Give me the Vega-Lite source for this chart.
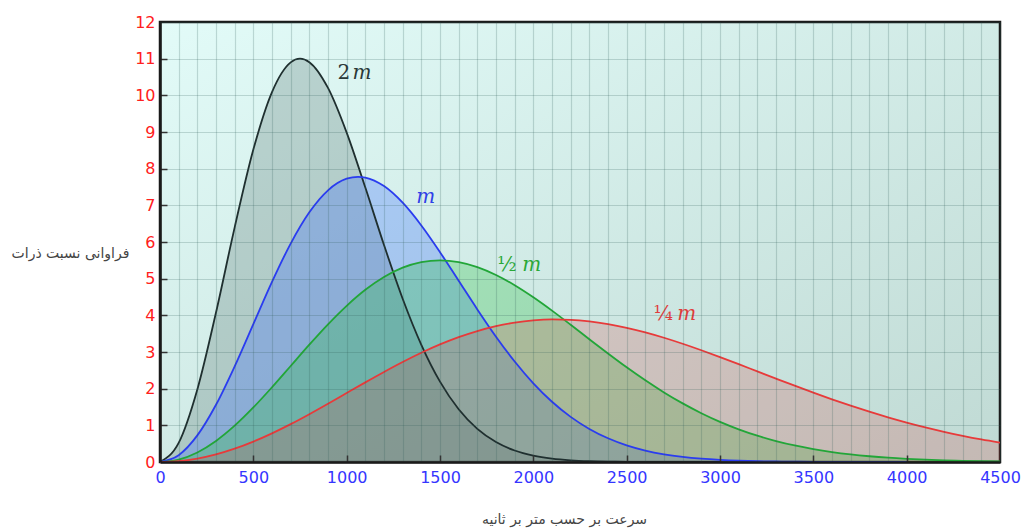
{
  "$schema": "https://vega.github.io/schema/vega-lite/v6.json",
  "width": 840,
  "height": 440,
  "autosize": {"type": "none"},
  "padding": {"left": 160, "top": 22, "right": 22, "bottom": 69},
  "background": "white",
  "config": {"view": {"stroke": null}},
  "datasets": {
    "bg": [{"v": 0, "v2": 4500, "f": 0, "f2": 12}],
    "curves": [
      {"s":"2m","v":0,"f":0},{"s":"2m","v":100,"f":0.522},{"s":"2m","v":200,"f":1.98},{"s":"2m","v":300,"f":4.077},{"s":"2m","v":400,"f":6.4},{"s":"2m","v":500,"f":8.521},{"s":"2m","v":600,"f":10.09},{"s":"2m","v":700,"f":10.9},{"s":"2m","v":750,"f":11.0},{"s":"2m","v":800,"f":10.905},{"s":"2m","v":900,"f":10.202},{"s":"2m","v":1000,"f":8.984},{"s":"2m","v":1100,"f":7.484},{"s":"2m","v":1200,"f":5.918},{"s":"2m","v":1300,"f":4.453},{"s":"2m","v":1400,"f":3.196},{"s":"2m","v":1500,"f":2.191},{"s":"2m","v":1600,"f":1.437},{"s":"2m","v":1700,"f":0.902},{"s":"2m","v":1800,"f":0.543},{"s":"2m","v":1900,"f":0.313},{"s":"2m","v":2000,"f":0.173},{"s":"2m","v":2100,"f":0.092},{"s":"2m","v":2200,"f":0.047},{"s":"2m","v":2300,"f":0.023},{"s":"2m","v":2400,"f":0.011},{"s":"2m","v":2500,"f":0.005},{"s":"2m","v":2600,"f":0.002},{"s":"2m","v":2700,"f":0.001},{"s":"2m","v":2800,"f":0},{"s":"2m","v":3000,"f":0},
      {"s":"m","v":0,"f":0},{"s":"m","v":100,"f":0.186},{"s":"m","v":200,"f":0.726},{"s":"m","v":300,"f":1.561},{"s":"m","v":400,"f":2.609},{"s":"m","v":500,"f":3.762},{"s":"m","v":600,"f":4.913},{"s":"m","v":700,"f":5.957},{"s":"m","v":800,"f":6.81},{"s":"m","v":900,"f":7.41},{"s":"m","v":1000,"f":7.726},{"s":"m","v":1061,"f":7.778},{"s":"m","v":1100,"f":7.757},{"s":"m","v":1200,"f":7.524},{"s":"m","v":1300,"f":7.071},{"s":"m","v":1400,"f":6.451},{"s":"m","v":1500,"f":5.723},{"s":"m","v":1600,"f":4.943},{"s":"m","v":1700,"f":4.162},{"s":"m","v":1800,"f":3.418},{"s":"m","v":1900,"f":2.741},{"s":"m","v":2000,"f":2.147},{"s":"m","v":2100,"f":1.644},{"s":"m","v":2200,"f":1.231},{"s":"m","v":2300,"f":0.902},{"s":"m","v":2400,"f":0.647},{"s":"m","v":2500,"f":0.454},{"s":"m","v":2600,"f":0.312},{"s":"m","v":2700,"f":0.21},{"s":"m","v":2800,"f":0.139},{"s":"m","v":2900,"f":0.09},{"s":"m","v":3000,"f":0.057},{"s":"m","v":3100,"f":0.035},{"s":"m","v":3200,"f":0.022},{"s":"m","v":3300,"f":0.013},{"s":"m","v":3400,"f":0.008},{"s":"m","v":3500,"f":0.004},{"s":"m","v":3700,"f":0.001},{"s":"m","v":4000,"f":0},
      {"s":"h","v":0,"f":0},{"s":"h","v":100,"f":0.066},{"s":"h","v":200,"f":0.261},{"s":"h","v":300,"f":0.575},{"s":"h","v":400,"f":0.99},{"s":"h","v":500,"f":1.487},{"s":"h","v":600,"f":2.038},{"s":"h","v":700,"f":2.619},{"s":"h","v":800,"f":3.2},{"s":"h","v":900,"f":3.755},{"s":"h","v":1000,"f":4.26},{"s":"h","v":1100,"f":4.696},{"s":"h","v":1200,"f":5.045},{"s":"h","v":1300,"f":5.299},{"s":"h","v":1400,"f":5.45},{"s":"h","v":1500,"f":5.5},{"s":"h","v":1600,"f":5.452},{"s":"h","v":1700,"f":5.316},{"s":"h","v":1800,"f":5.101},{"s":"h","v":1900,"f":4.821},{"s":"h","v":2000,"f":4.492},{"s":"h","v":2100,"f":4.128},{"s":"h","v":2200,"f":3.742},{"s":"h","v":2300,"f":3.348},{"s":"h","v":2400,"f":2.959},{"s":"h","v":2500,"f":2.582},{"s":"h","v":2600,"f":2.227},{"s":"h","v":2700,"f":1.897},{"s":"h","v":2800,"f":1.598},{"s":"h","v":2900,"f":1.331},{"s":"h","v":3000,"f":1.095},{"s":"h","v":3100,"f":0.892},{"s":"h","v":3200,"f":0.718},{"s":"h","v":3300,"f":0.572},{"s":"h","v":3400,"f":0.451},{"s":"h","v":3500,"f":0.352},{"s":"h","v":3600,"f":0.271},{"s":"h","v":3700,"f":0.207},{"s":"h","v":3800,"f":0.157},{"s":"h","v":3900,"f":0.117},{"s":"h","v":4000,"f":0.087},{"s":"h","v":4100,"f":0.064},{"s":"h","v":4200,"f":0.046},{"s":"h","v":4300,"f":0.033},{"s":"h","v":4400,"f":0.024},{"s":"h","v":4500,"f":0.017},
      {"s":"q","v":0,"f":0},{"s":"q","v":100,"f":0.023},{"s":"q","v":200,"f":0.093},{"s":"q","v":300,"f":0.207},{"s":"q","v":400,"f":0.363},{"s":"q","v":500,"f":0.556},{"s":"q","v":600,"f":0.781},{"s":"q","v":700,"f":1.032},{"s":"q","v":800,"f":1.304},{"s":"q","v":900,"f":1.589},{"s":"q","v":1000,"f":1.881},{"s":"q","v":1100,"f":2.172},{"s":"q","v":1200,"f":2.456},{"s":"q","v":1300,"f":2.727},{"s":"q","v":1400,"f":2.979},{"s":"q","v":1500,"f":3.206},{"s":"q","v":1600,"f":3.405},{"s":"q","v":1700,"f":3.572},{"s":"q","v":1800,"f":3.705},{"s":"q","v":1900,"f":3.802},{"s":"q","v":2000,"f":3.863},{"s":"q","v":2100,"f":3.888},{"s":"q","v":2200,"f":3.878},{"s":"q","v":2300,"f":3.836},{"s":"q","v":2400,"f":3.762},{"s":"q","v":2500,"f":3.661},{"s":"q","v":2600,"f":3.536},{"s":"q","v":2700,"f":3.389},{"s":"q","v":2800,"f":3.225},{"s":"q","v":2900,"f":3.048},{"s":"q","v":3000,"f":2.861},{"s":"q","v":3100,"f":2.668},{"s":"q","v":3200,"f":2.471},{"s":"q","v":3300,"f":2.275},{"s":"q","v":3400,"f":2.081},{"s":"q","v":3500,"f":1.892},{"s":"q","v":3600,"f":1.709},{"s":"q","v":3700,"f":1.535},{"s":"q","v":3800,"f":1.371},{"s":"q","v":3900,"f":1.217},{"s":"q","v":4000,"f":1.074},{"s":"q","v":4100,"f":0.942},{"s":"q","v":4200,"f":0.822},{"s":"q","v":4300,"f":0.714},{"s":"q","v":4400,"f":0.616},{"s":"q","v":4500,"f":0.529}
    ],
    "labels": [
      {"t":"2","v":985,"f":10.44,"s":"2m","it":0},
      {"t":"m","v":1082,"f":10.44,"s":"2m","it":1},
      {"t":"m","v":1424,"f":7.07,"s":"m","it":1},
      {"t":"½","v":1858,"f":5.22,"s":"h","it":0},
      {"t":"m","v":1991,"f":5.22,"s":"h","it":1},
      {"t":"¼","v":2696,"f":3.87,"s":"q","it":0},
      {"t":"m","v":2822,"f":3.87,"s":"q","it":1}
    ]
  },
  "encoding": {
    "x": {
      "field": "v", "type": "quantitative",
      "scale": {"domain": [0, 4500], "nice": false, "zero": false},
      "axis": {
        "title": "سرعت بر حسب متر بر ثانیه",
        "titleFont": "DejaVu Sans", "titleFontSize": 14, "titleFontWeight": "normal", "titleColor": "#444444",
        "titleX": 404, "titleY": 57, "titleAlign": "center", "titleBaseline": "middle",
        "values": [0,100,200,300,400,500,600,700,800,900,1000,1100,1200,1300,1400,1500,1600,1700,1800,1900,2000,2100,2200,2300,2400,2500,2600,2700,2800,2900,3000,3100,3200,3300,3400,3500,3600,3700,3800,3900,4000,4100,4200,4300,4400,4500],
        "format": "d",
        "labelExpr": "datum.value % 500 === 0 ? datum.label : ''",
        "labelOverlap": false, "labelFlush": false,
        "labelFont": "DejaVu Sans", "labelFontSize": 16, "labelColor": "#3535ff", "labelPadding": 14,
        "grid": true, "gridColor": "#2f5a55", "gridOpacity": 0.22, "gridWidth": 1.2,
        "tickSize": -7, "tickColor": "#333333", "tickWidth": 1.5,
        "tickOpacity": {"condition": {"test": "datum.value % 500 === 0 && datum.value > 0 && datum.value < 4500", "value": 1}, "value": 0},
        "domainColor": "#1a1a1a", "domainWidth": 2.5,
        "zindex": 1
      }
    },
    "y": {
      "field": "f", "type": "quantitative",
      "scale": {"domain": [0, 12], "nice": false, "zero": false},
      "axis": {
        "title": "فراوانی نسبت ذرات",
        "titleFont": "DejaVu Sans", "titleFontSize": 14, "titleFontWeight": "normal", "titleColor": "#444444",
        "titleAngle": 0, "titleX": -90, "titleY": 231, "titleAlign": "center", "titleBaseline": "middle",
        "values": [0,0.5,1,1.5,2,2.5,3,3.5,4,4.5,5,5.5,6,6.5,7,7.5,8,8.5,9,9.5,10,10.5,11,11.5,12],
        "format": "d",
        "labelExpr": "datum.value % 1 === 0 ? format(datum.value, 'd') : ''",
        "labelOverlap": false, "labelFlush": false,
        "labelFont": "DejaVu Sans", "labelFontSize": 16, "labelColor": "#ff2020", "labelPadding": 12,
        "grid": true, "gridColor": "#2f5a55", "gridOpacity": 0.22, "gridWidth": 1.2,
        "tickSize": -7, "tickColor": "#333333", "tickWidth": 1.5,
        "tickOpacity": {"condition": {"test": "datum.value % 1 === 0 && datum.value > 0 && datum.value < 12", "value": 1}, "value": 0},
        "domainColor": "#1a1a1a", "domainWidth": 2.5,
        "zindex": 1
      }
    }
  },
  "layer": [
    {
      "data": {"name": "bg"},
      "mark": {
        "type": "rect",
        "fill": {"gradient": "linear", "x1": 0, "y1": 0, "x2": 1, "y2": 1,
          "stops": [{"offset": 0, "color": "#e2fbf8"}, {"offset": 1, "color": "#c0dad4"}]},
        "stroke": "#1a1a1a",
        "strokeWidth": 2.5
      },
      "encoding": {
        "x2": {"field": "v2"},
        "y2": {"field": "f2"}
      }
    },
    {
      "data": {"name": "curves"},
      "mark": {"type": "area", "interpolate": "monotone"},
      "encoding": {
        "y": {"field": "f", "type": "quantitative", "stack": null},
        "fill": {
          "field": "s", "type": "nominal", "legend": null,
          "scale": {"domain": ["2m", "m", "h", "q"],
            "range": ["rgba(70,100,95,0.25)", "rgba(60,110,255,0.3)", "rgba(46,192,68,0.3)", "rgba(215,70,70,0.22)"]}
        }
      }
    },
    {
      "data": {"name": "curves"},
      "mark": {"type": "line", "interpolate": "monotone", "strokeWidth": 1.8},
      "encoding": {
        "stroke": {
          "field": "s", "type": "nominal", "legend": null,
          "scale": {"domain": ["2m", "m", "h", "q"], "range": ["#1f2f2f", "#2a3cf0", "#22a638", "#e83a3a"]}
        }
      }
    },
    {
      "data": {"name": "labels"},
      "transform": [{"filter": "datum.it === 0"}],
      "mark": {"type": "text", "font": "DejaVu Serif", "fontSize": 20, "align": "center", "baseline": "alphabetic"},
      "encoding": {
        "text": {"field": "t"},
        "color": {
          "field": "s", "type": "nominal", "legend": null,
          "scale": {"domain": ["2m", "m", "h", "q"], "range": ["#2a3838", "#2e40e8", "#2aa838", "#e03c3c"]}
        }
      }
    },
    {
      "data": {"name": "labels"},
      "transform": [{"filter": "datum.it === 1"}],
      "mark": {"type": "text", "font": "DejaVu Serif", "fontSize": 20, "fontStyle": "italic", "align": "center", "baseline": "alphabetic"},
      "encoding": {
        "text": {"field": "t"},
        "color": {
          "field": "s", "type": "nominal", "legend": null,
          "scale": {"domain": ["2m", "m", "h", "q"], "range": ["#2a3838", "#2e40e8", "#2aa838", "#e03c3c"]}
        }
      }
    }
  ]
}
